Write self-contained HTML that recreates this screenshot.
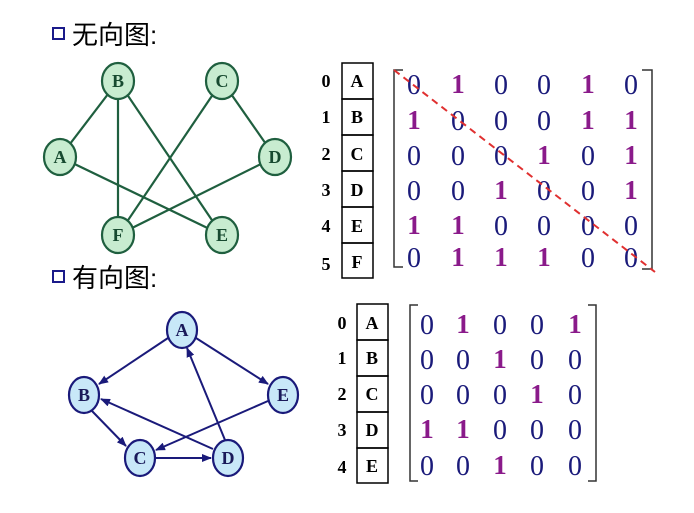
<!DOCTYPE html>
<html><head><meta charset="utf-8"><style>
body{margin:0;background:#fff;width:694px;height:513px;overflow:hidden}
svg{display:block}
.t{font-family:"Liberation Sans","Noto Sans CJK SC",sans-serif;font-size:26px;fill:#000}
.n{font-family:"Liberation Serif",serif;font-weight:bold;font-size:18px;text-anchor:middle}
.m{font-family:"Liberation Serif",serif;font-size:28px;text-anchor:middle;fill:#1a1a7a}
.o{font-family:"Liberation Serif",serif;font-weight:bold;font-size:27px;text-anchor:middle;fill:#8a1a8a}
</style></head><body>
<svg width="694" height="513" viewBox="0 0 694 513">
<defs><marker id="ar" markerWidth="10" markerHeight="8" refX="9" refY="4" orient="auto" markerUnits="userSpaceOnUse"><path d="M0,0 L10,4 L0,8 z" fill="#1a1a7a"/></marker></defs>
<rect x="53" y="28" width="11" height="11" fill="none" stroke="#1a1a8a" stroke-width="2"/>
<text class="t" x="72" y="44">无向图:</text>
<rect x="53" y="271" width="11" height="11" fill="none" stroke="#1a1a8a" stroke-width="2"/>
<text class="t" x="72" y="287">有向图:</text>
<g stroke="#1f5f3f" stroke-width="2.2">
<line x1="118" y1="81" x2="60" y2="157"/><line x1="118" y1="81" x2="118" y2="235"/><line x1="118" y1="81" x2="222" y2="235"/>
<line x1="222" y1="81" x2="118" y2="235"/><line x1="222" y1="81" x2="275" y2="157"/><line x1="60" y1="157" x2="222" y2="235"/><line x1="275" y1="157" x2="118" y2="235"/>
</g>
<g fill="#c8ecd0" stroke="#1f5f3f" stroke-width="2.2">
<ellipse cx="118" cy="81" rx="16" ry="18"/><ellipse cx="222" cy="81" rx="16" ry="18"/><ellipse cx="60" cy="157" rx="16" ry="18"/>
<ellipse cx="275" cy="157" rx="16" ry="18"/><ellipse cx="118" cy="235" rx="16" ry="18"/><ellipse cx="222" cy="235" rx="16" ry="18"/></g>
<g class="n" fill="#174a30"><text x="118" y="87">B</text><text x="222" y="87">C</text><text x="60" y="163">A</text><text x="275" y="163">D</text><text x="118" y="241">F</text><text x="222" y="241">E</text></g>
<g fill="none" stroke="#000" stroke-width="1.5">
<rect x="342" y="63" width="31" height="36"/><rect x="342" y="99" width="31" height="36"/><rect x="342" y="135" width="31" height="36"/><rect x="342" y="171" width="31" height="36"/><rect x="342" y="207" width="31" height="36"/><rect x="342" y="243" width="31" height="35"/></g>
<g class="n" fill="#000"><text x="357" y="87">A</text><text x="357" y="123">B</text><text x="357" y="160">C</text><text x="357" y="196">D</text><text x="357" y="232">E</text><text x="357" y="268">F</text>
<text x="326" y="87">0</text><text x="326" y="123">1</text><text x="326" y="160">2</text><text x="326" y="196">3</text><text x="326" y="232">4</text><text x="326" y="270">5</text></g>
<g fill="none" stroke="#333" stroke-width="1.5"><path d="M403,70 H394 V267 H403"/><path d="M642,70 H652 V269 H642"/></g>
<g>
<text class="m" x="414" y="94">0</text><text class="o" x="458" y="93">1</text><text class="m" x="501" y="94">0</text><text class="m" x="544" y="94">0</text><text class="o" x="588" y="93">1</text><text class="m" x="631" y="94">0</text>
<text class="o" x="414" y="129">1</text><text class="m" x="458" y="130">0</text><text class="m" x="501" y="130">0</text><text class="m" x="544" y="130">0</text><text class="o" x="588" y="129">1</text><text class="o" x="631" y="129">1</text>
<text class="m" x="414" y="165">0</text><text class="m" x="458" y="165">0</text><text class="m" x="501" y="165">0</text><text class="o" x="544" y="164">1</text><text class="m" x="588" y="165">0</text><text class="o" x="631" y="164">1</text>
<text class="m" x="414" y="200">0</text><text class="m" x="458" y="200">0</text><text class="o" x="501" y="199">1</text><text class="m" x="544" y="200">0</text><text class="m" x="588" y="200">0</text><text class="o" x="631" y="199">1</text>
<text class="o" x="414" y="234">1</text><text class="o" x="458" y="234">1</text><text class="m" x="501" y="235">0</text><text class="m" x="544" y="235">0</text><text class="m" x="588" y="235">0</text><text class="m" x="631" y="235">0</text>
<text class="m" x="414" y="267">0</text><text class="o" x="458" y="266">1</text><text class="o" x="501" y="266">1</text><text class="o" x="544" y="266">1</text><text class="m" x="588" y="267">0</text><text class="m" x="631" y="267">0</text>
</g>
<line x1="394" y1="70" x2="655" y2="272" stroke="#e03030" stroke-width="2" stroke-dasharray="7,5"/>
<g stroke="#1a1a7a" stroke-width="2" marker-end="url(#ar)">
<line x1="168" y1="338" x2="99" y2="384"/><line x1="196" y1="338" x2="268" y2="384"/>
<line x1="92" y1="411" x2="126" y2="446"/><line x1="156" y1="458" x2="211" y2="458"/>
<line x1="225" y1="440" x2="187" y2="348"/><line x1="213" y1="449" x2="101" y2="399"/>
<line x1="268" y1="401" x2="156" y2="450"/>
</g>
<g fill="#c8e8f8" stroke="#1a1a7a" stroke-width="2.2">
<ellipse cx="182" cy="330" rx="15" ry="18"/><ellipse cx="84" cy="395" rx="15" ry="18"/><ellipse cx="283" cy="395" rx="15" ry="18"/><ellipse cx="140" cy="458" rx="15" ry="18"/><ellipse cx="228" cy="458" rx="15" ry="18"/></g>
<g class="n" fill="#1a1a5a"><text x="182" y="336">A</text><text x="84" y="401">B</text><text x="283" y="401">E</text><text x="140" y="464">C</text><text x="228" y="464">D</text></g>
<g fill="none" stroke="#000" stroke-width="1.5">
<rect x="357" y="304" width="31" height="36"/><rect x="357" y="340" width="31" height="36"/><rect x="357" y="376" width="31" height="36"/><rect x="357" y="412" width="31" height="36"/><rect x="357" y="448" width="31" height="35"/></g>
<g class="n" fill="#000"><text x="372" y="329">A</text><text x="372" y="364">B</text><text x="372" y="400">C</text><text x="372" y="436">D</text><text x="372" y="472">E</text>
<text x="342" y="329">0</text><text x="342" y="364">1</text><text x="342" y="400">2</text><text x="342" y="436">3</text><text x="342" y="473">4</text></g>
<g fill="none" stroke="#333" stroke-width="1.5"><path d="M418,305 H410 V481 H418"/><path d="M588,305 H596 V481 H588"/></g>
<g>
<text class="m" x="427" y="334">0</text><text class="o" x="463" y="333">1</text><text class="m" x="500" y="334">0</text><text class="m" x="537" y="334">0</text><text class="o" x="575" y="333">1</text>
<text class="m" x="427" y="369">0</text><text class="m" x="463" y="369">0</text><text class="o" x="500" y="368">1</text><text class="m" x="537" y="369">0</text><text class="m" x="575" y="369">0</text>
<text class="m" x="427" y="404">0</text><text class="m" x="463" y="404">0</text><text class="m" x="500" y="404">0</text><text class="o" x="537" y="403">1</text><text class="m" x="575" y="404">0</text>
<text class="o" x="427" y="438">1</text><text class="o" x="463" y="438">1</text><text class="m" x="500" y="439">0</text><text class="m" x="537" y="439">0</text><text class="m" x="575" y="439">0</text>
<text class="m" x="427" y="475">0</text><text class="m" x="463" y="475">0</text><text class="o" x="500" y="474">1</text><text class="m" x="537" y="475">0</text><text class="m" x="575" y="475">0</text>
</g>
</svg>
</body></html>
